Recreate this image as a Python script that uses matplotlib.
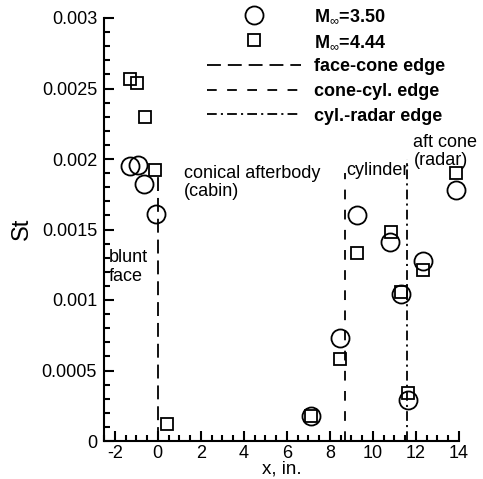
import matplotlib
matplotlib.use('Agg')
import matplotlib.pyplot as plt
from matplotlib.ticker import MultipleLocator

plt.rcParams['font.family'] = ['Liberation Sans', 'DejaVu Sans']
plt.rcParams['mathtext.fontset'] = 'custom'
plt.rcParams['mathtext.rm'] = 'Liberation Sans'
plt.rcParams['mathtext.bf'] = 'Liberation Sans:bold'
plt.rcParams['lines.scale_dashes'] = False

# M=3.50 run (circles)
x350 = [-1.28, -0.94, -0.64, -0.06, 7.14, 8.48, 9.26, 10.80, 11.30, 11.61, 12.32, 13.85]
st350 = [0.00195, 0.00196, 0.00182, 0.00161, 0.000177, 0.000733, 0.00160, 0.00141, 0.00104, 0.00029, 0.00128, 0.00178]

# M=4.44 run (squares)
x444 = [-1.28, -0.97, -0.60, -0.12, 0.45, 7.14, 8.48, 9.26, 10.85, 11.30, 11.61, 12.32, 13.85]
st444 = [0.00257, 0.00254, 0.00230, 0.00192, 0.00012, 0.000175, 0.00058, 0.00133, 0.00148, 0.00106, 0.00034, 0.00121, 0.00190]

# geometry edges
edge_names = ['face-cone edge', 'cone-cyl. edge', 'cyl.-radar edge']
edge_x = [0.0, 8.72, 11.6]
edge_top = [0.0019, 0.0019, 0.0020]
edge_dashes = [(10, 5), (7, 7.5), (7, 3, 1.5, 3)]

# region labels
region_text = ['blunt\nface', 'conical afterbody\n(cabin)', 'cylinder', 'aft cone\n(radar)']
region_x = [-2.3, 1.2, 8.78, 11.88]
region_y = [0.00136, 0.00196, 0.00198, 0.00218]

fig = plt.figure(figsize=(4.83, 4.79), dpi=100)
ax = fig.add_axes([104/483, 1-441/479, 355/483, 423/479])

ax.plot(x350, st350, 'o', ms=13, mfc='none', mec='black', mew=1.3, clip_on=False,
        label=r'M$_{\infty}$=3.50')
ax.plot(x444, st444, 's', ms=9, mfc='none', mec='black', mew=1.3, clip_on=False,
        label=r'M$_{\infty}$=4.44')
for name, xe, top, d in zip(edge_names, edge_x, edge_top, edge_dashes):
    ax.plot([xe, xe], [0, top], color='black', lw=1.3, dashes=d, label=name)

for t, tx, ty in zip(region_text, region_x, region_y):
    ax.text(tx, ty, t, fontsize=13, ha='left', va='top', linespacing=1.12)

ax.set_xlim(-2.5, 14)
ax.set_ylim(0, 0.003)
ax.xaxis.set_minor_locator(MultipleLocator(0.5))
ax.yaxis.set_minor_locator(MultipleLocator(0.0001))
ax.set_yticks([0, 0.0005, 0.001, 0.0015, 0.002, 0.0025, 0.003])
ax.set_yticklabels(['0', '0.0005', '0.001', '0.0015', '0.002', '0.0025', '0.003'])
ax.set_xticks(range(-2, 15, 2))
ax.set_xticklabels(['-2', '0', '2', '4', '6', '8', '10', '12', '14'])

ax.tick_params(which='both', direction='in', width=1.5, labelsize=13)
ax.tick_params(which='major', length=7, pad=5)
ax.tick_params(axis='x', which='major', pad=3)
ax.tick_params(which='minor', length=4.5)
ax.spines['top'].set_visible(False)
ax.spines['right'].set_visible(False)
ax.spines['left'].set_linewidth(1.5)
ax.spines['bottom'].set_linewidth(1.5)

ax.set_xlabel('x, in.', fontsize=13.5)
ax.set_ylabel('St', fontsize=17)
ax.xaxis.set_label_coords(0.501, -0.046)
ax.yaxis.set_label_coords(-0.2, 0.501)

ax.legend(loc='upper left', bbox_to_anchor=(0.29, 1.024), frameon=False,
          borderaxespad=0, borderpad=0, handlelength=5.2, handletextpad=0.72,
          labelspacing=0.42, prop={'weight': 'bold', 'size': 13})

fig.savefig('out.png', dpi=100)
